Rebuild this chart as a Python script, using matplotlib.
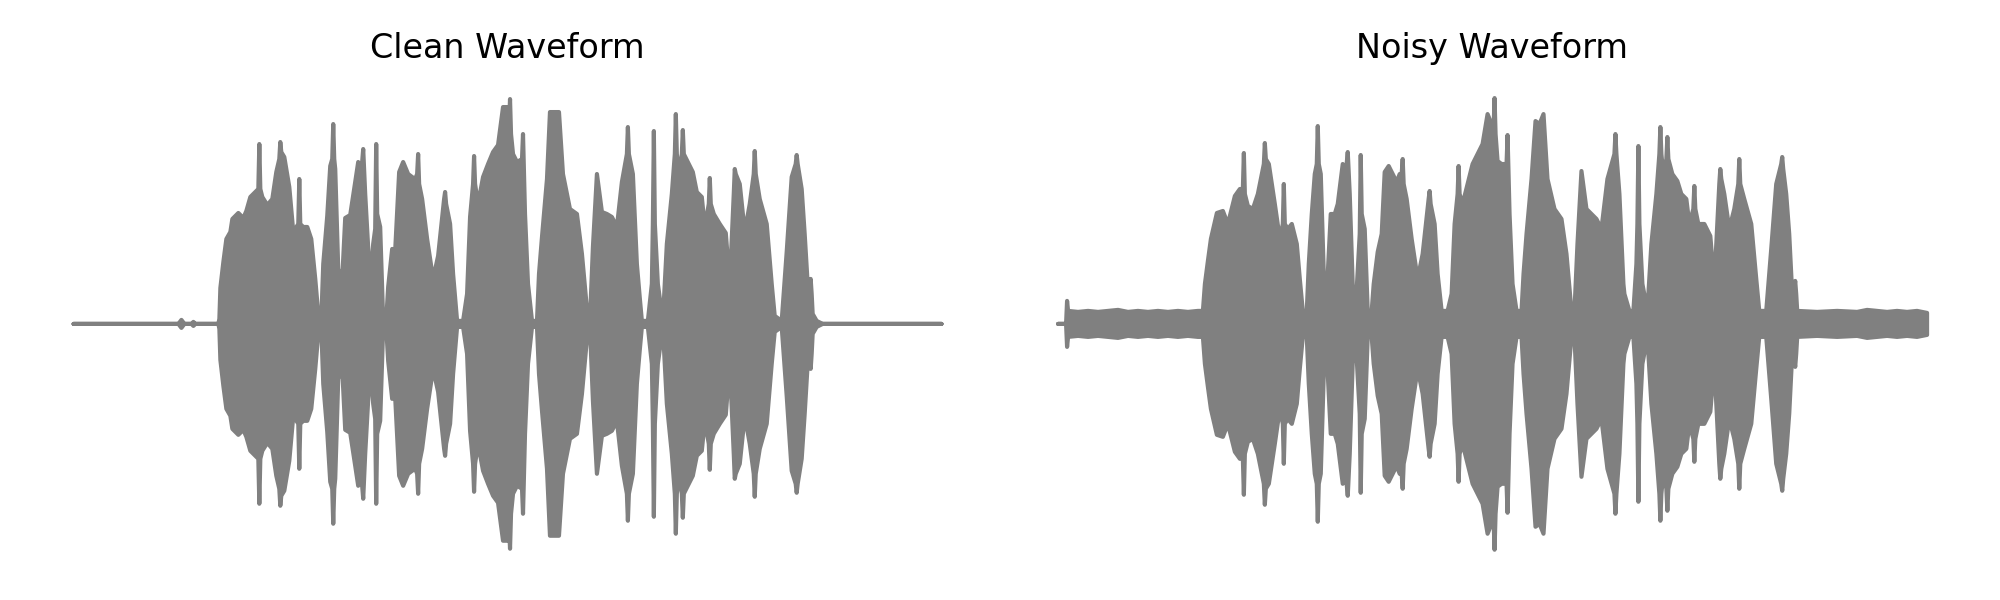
import numpy as np
import matplotlib.pyplot as plt

# envelope: frame index (1 frame ~ 3.45 ms) and peak amplitude
clean_pos = [0, 105, 108, 111, 118, 120, 122, 145, 146, 147,
             150, 153, 157, 159, 165, 170, 173, 177, 182, 185,
             186, 187, 189, 194, 199, 203, 206, 207, 208, 211,
             216, 220, 225, 226, 227, 230, 234, 238, 242, 245,
             248, 250, 254, 257, 259, 260, 261, 262, 265, 269,
             272, 277, 282, 285, 288, 290, 292, 297, 300, 302,
             303, 304, 307, 310, 313, 315, 319, 322, 326, 330,
             335, 339, 342, 344, 345, 346, 349, 354, 360, 365,
             371, 372, 373, 377, 380, 384, 390, 394, 397, 400,
             401, 402, 405, 410, 415, 420, 425, 430, 434, 436,
             437, 438, 440, 444, 449, 450, 451, 452, 455, 459,
             464, 466, 469, 474, 477, 482, 486, 490, 497, 504,
             509, 514, 517, 520, 524, 529, 534, 539, 544, 549,
             554, 555, 556, 560, 564, 567, 569, 575, 579, 580,
             581, 582, 585, 590, 594, 599, 602, 603, 604, 606,
             609, 610, 611, 615, 620, 624, 629, 632, 636, 637,
             638, 641, 647, 653, 657, 661, 662, 663, 667, 672,
             677, 681, 682, 683, 687, 694, 699, 702, 709, 714,
             719, 723, 724, 725, 729, 732, 735, 737, 738, 739,
             740, 744, 750, 869]
clean_amp = [0, 0, 4, 0, 0, 2, 0, 0, 5, 36,
             62, 85, 92, 105, 111, 106, 113, 127, 132, 135,
             180, 135, 127, 119, 125, 152, 165, 182, 172, 167,
             137, 92, 100, 145, 100, 97, 97, 85, 45, 10,
             3, 60, 108, 158, 165, 200, 165, 155, 55, 45,
             106, 109, 142, 162, 150, 175, 130, 40, 80, 95,
             180, 110, 97, 3, 3, 37, 75, 73, 152, 162,
             150, 147, 145, 150, 170, 140, 125, 85, 45, 68,
             125, 132, 120, 100, 50, 3, 3, 30, 107, 140,
             168, 140, 120, 147, 160, 172, 179, 217, 217, 200,
             225, 190, 170, 162, 165, 190, 150, 110, 40, 3,
             3, 50, 87, 145, 212, 212, 212, 150, 115, 110,
             70, 15, 3, 77, 150, 112, 110, 107, 97, 142,
             170, 197, 170, 150, 60, 25, 3, 3, 40, 100,
             193, 100, 40, 3, 80, 130, 170, 210, 170, 150,
             170, 194, 170, 162, 152, 132, 127, 97, 120, 146,
             120, 110, 100, 91, 40, 130, 155, 150, 140, 92,
             120, 150, 173, 150, 125, 100, 40, 8, 3, 72,
             147, 160, 169, 160, 135, 90, 40, 40, 45, 30,
             10, 3, 0, 0]

noisy_pos = [0, 8, 9, 10, 20, 30, 40, 50, 60, 70,
             80, 90, 100, 110, 120, 130, 140, 145, 147, 150,
             153, 159, 165, 170, 173, 177, 182, 185, 186, 187,
             190, 195, 200, 206, 207, 208, 211, 217, 222, 225,
             226, 227, 230, 234, 239, 242, 245, 249, 251, 254,
             257, 259, 260, 261, 263, 266, 270, 273, 277, 280,
             285, 288, 290, 292, 295, 299, 302, 303, 304, 307,
             310, 314, 316, 320, 324, 327, 331, 335, 339, 342,
             344, 345, 346, 349, 354, 360, 365, 371, 372, 373,
             377, 380, 384, 390, 394, 397, 400, 401, 402, 405,
             410, 415, 420, 425, 430, 434, 436, 437, 438, 440,
             444, 449, 450, 451, 452, 455, 459, 464, 466, 469,
             474, 478, 482, 486, 490, 497, 504, 509, 514, 517,
             520, 524, 529, 534, 539, 544, 550, 557, 558, 559,
             562, 566, 567, 572, 576, 579, 580, 581, 582, 585,
             590, 594, 599, 602, 603, 604, 606, 609, 610, 611,
             615, 620, 624, 629, 632, 636, 637, 638, 641, 647,
             653, 657, 662, 663, 664, 667, 672, 677, 681, 682,
             683, 687, 694, 699, 702, 709, 714, 719, 724, 725,
             726, 729, 732, 735, 737, 738, 739, 740, 760, 780,
             800, 810, 820, 830, 840, 850, 860, 870]
noisy_amp = [0, 0, 23, 13, 12, 13, 12, 13, 14, 12,
             13, 12, 13, 12, 13, 12, 13, 13, 40, 63,
             85, 111, 113, 100, 112, 128, 135, 135, 171, 130,
             118, 115, 130, 160, 181, 165, 160, 120, 85, 100,
             140, 100, 95, 100, 80, 45, 13, 13, 60, 110,
             150, 160, 198, 160, 150, 50, 50, 110, 110, 120,
             160, 150, 172, 130, 38, 35, 90, 169, 110, 95,
             13, 13, 40, 72, 90, 152, 158, 150, 142, 150,
             150, 165, 140, 125, 85, 45, 70, 125, 133, 120,
             100, 50, 13, 13, 30, 100, 130, 158, 130, 120,
             140, 160, 170, 180, 210, 200, 195, 226, 190, 163,
             160, 160, 189, 150, 110, 40, 13, 13, 50, 90,
             145, 203, 200, 210, 145, 115, 105, 70, 13, 13,
             80, 153, 115, 110, 105, 95, 145, 170, 190, 170,
             130, 40, 30, 13, 13, 60, 100, 178, 100, 40,
             13, 80, 130, 170, 197, 170, 150, 165, 187, 165,
             150, 143, 130, 125, 100, 115, 138, 115, 100, 100,
             88, 40, 140, 155, 145, 130, 95, 115, 140, 165,
             140, 125, 100, 45, 13, 13, 75, 140, 160, 167,
             155, 130, 90, 30, 35, 43, 30, 13, 12, 13,
             12, 14, 13, 12, 13, 12, 13, 11]

titles = ['Clean Waveform', 'Noisy Waveform']

FRAME_S = 0.00345
AMP_SCALE = 226.0

fig, axes = plt.subplots(1, 2, figsize=(10, 3))

for ax, pos, amp, title in zip(axes, [clean_pos, noisy_pos], [clean_amp, noisy_amp], titles):
    t = np.array(pos) * FRAME_S
    a = np.array(amp) / AMP_SCALE
    ax.fill_between(t, -a, a, color='gray', linewidth=1.5, joinstyle='round')
    span = 870 * FRAME_S
    ax.set_xlim(-0.05 * span, 1.05 * span)
    ax.set_ylim(-1.1, 1.1)
    ax.set_title(title)
    ax.axis('off')

fig.subplots_adjust(left=0.0148, right=0.985, bottom=0.047, top=0.875, wspace=0.03)
fig.savefig('out.png', dpi=200)
